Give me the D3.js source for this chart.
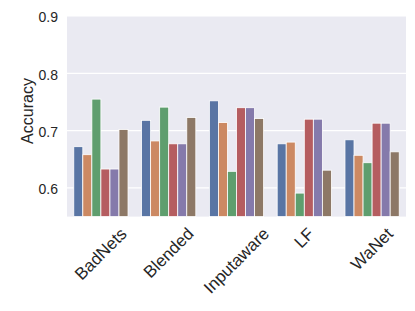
<!DOCTYPE html>
<html>
<head>
<meta charset="utf-8" />
<style type="text/css">
  *{margin:0px;padding:0px;}
  body{background:#fff;}
  text{font-family:"Liberation Sans", Arial, sans-serif;fill:#262626;}
</style>
</head>
<body>
<script src="https://cdn.jsdelivr.net/npm/d3@7"></script>
<script type="text/javascript">
// categories on x, one bar per series in each group
var attacks = ["BadNets", "Blended", "Inputaware", "LF", "WaNet"];
var seriesNames = ["s1", "s2", "s3", "s4", "s5", "s6"];
var s1 = [0.672, 0.718, 0.752, 0.677, 0.684];
var s2 = [0.658, 0.682, 0.714, 0.680, 0.657];
var s3 = [0.755, 0.741, 0.629, 0.591, 0.644];
var s4 = [0.633, 0.677, 0.740, 0.720, 0.713];
var s5 = [0.633, 0.677, 0.740, 0.720, 0.713];
var s6 = [0.702, 0.723, 0.721, 0.631, 0.663];
var yTicks = [0.6, 0.7, 0.8, 0.9];

var series = [s1, s2, s3, s4, s5, s6];
var colors = ["#5975a4", "#cc8963", "#5f9e6e", "#b55d60", "#857aab", "#8d7866"];

var W = 415, H = 311;
var pLeft = 67, pRight = 406, pTop = 16, pBottom = 216.6;

var svg = d3.select("body").append("svg").attr("width", W).attr("height", H);

var x = d3.scaleBand().domain(attacks).range([pLeft, pRight]).paddingInner(0.2).paddingOuter(0.1);
var xs = d3.scaleBand().domain(seriesNames).range([0, x.bandwidth()]).padding(0);
var y = d3.scaleLinear().domain([0.55, 0.9]).range([pBottom, pTop]);

svg.append("rect").attr("x", pLeft).attr("y", pTop)
  .attr("width", pRight - pLeft).attr("height", pBottom - pTop).attr("fill", "#eaeaf2");

// horizontal grid
svg.selectAll("line.grid").data(yTicks).enter().append("line")
  .attr("class", "grid")
  .attr("x1", pLeft).attr("x2", pRight)
  .attr("y1", function(d){return y(d)}).attr("y2", function(d){return y(d)})
  .attr("stroke", "#fff").attr("stroke-width", 1.2);

// bars
var groups = svg.selectAll("g.grp").data(attacks).enter().append("g")
  .attr("class", "grp")
  .attr("transform", function(d){return "translate(" + x(d) + ",0)"});

groups.selectAll("rect").data(function(d, i){
    return series.map(function(s, j){return {k: seriesNames[j], v: s[i], c: colors[j]}});
  }).enter().append("rect")
  .attr("x", function(d){return xs(d.k)})
  .attr("width", xs.bandwidth())
  .attr("y", function(d){return y(d.v)})
  .attr("height", function(d){return pBottom - y(d.v)})
  .attr("fill", function(d){return d.c})
  .attr("stroke", "#fff").attr("stroke-width", 0.8);

// y axis labels (no tick marks)
var yAxis = d3.axisLeft(y).tickValues(yTicks).tickSize(0).tickPadding(9).tickFormat(d3.format(".1f"));
var ya = svg.append("g").attr("transform", "translate(" + pLeft + ",0)").call(yAxis);
ya.select(".domain").remove();
ya.selectAll("text").style("font-size", "14px").attr("fill", "#262626")
  .attr("dy", "0.42em")
  .style("font-family", "'Liberation Sans', Arial, sans-serif");

// rotated x labels, centred like matplotlib ha=center
var fs = 17, lineH = fs * 1.0, labTop = 225;
svg.selectAll("text.xl").data(attacks).enter().append("text")
  .attr("class", "xl")
  .attr("text-anchor", "middle")
  .attr("dominant-baseline", "central")
  .style("font-size", fs + "px")
  .text(function(d){return d})
  .each(function(d){
    var w = this.getComputedTextLength();
    var hh = (w + lineH) * Math.SQRT1_2;
    var cx = x(d) + x.bandwidth() / 2, cy = labTop + hh / 2;
    d3.select(this).attr("x", cx).attr("y", cy)
      .attr("transform", "rotate(-45," + cx + "," + cy + ")");
  });

svg.append("text")
  .attr("text-anchor", "middle")
  .attr("dominant-baseline", "central")
  .attr("transform", "translate(27,111) rotate(-90)")
  .style("font-size", "16px")
  .text("Accuracy");
</script>
</body>
</html>
